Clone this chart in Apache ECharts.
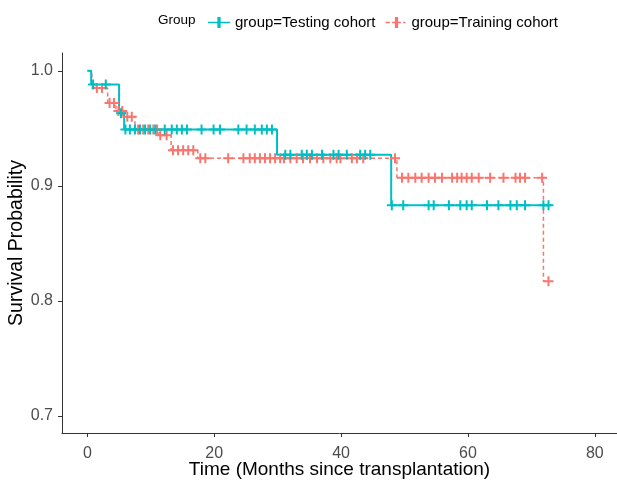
<!DOCTYPE html>
<html>
<head>
<meta charset="utf-8">
<script src="https://cdn.jsdelivr.net/npm/echarts@6/dist/echarts.min.js"></script>
<style>
html,body{margin:0;padding:0;background:#fff;}
#chart{width:617px;height:482px;}
</style>
</head>
<body>
<div id="chart"></div>
<script>
// Kaplan-Meier step points [time, survival]
const testingSteps = [[0,1.0],[0.6,0.988],[5.0,0.963],[5.8,0.949],[29.9,0.927],[47.9,0.883],[73.2,0.883]];
const trainingSteps = [[0,1.0],[0.7,0.985],[3.2,0.972],[4.5,0.965],[6.0,0.960],[7.5,0.949],[11.3,0.944],[13.2,0.931],[17.4,0.924],[48.8,0.907],[71.9,0.817],[72.7,0.817]];
// censoring times
const testingCensor = [0.9,2.9,5.3,6.0,6.7,7.5,8.3,9.1,9.9,10.7,12.2,13.3,14.1,14.9,15.7,18.0,19.9,20.9,23.8,25.1,26.4,27.5,28.3,29.1,
  31.2,32.0,33.8,34.6,35.4,37.0,38.8,39.6,40.9,43.0,43.8,44.6,
  48.0,49.8,53.8,54.6,57.0,58.8,59.8,60.6,63.0,64.8,66.7,67.7,69.0,71.9,72.7];
const trainingCensor = [1.5,2.3,3.5,4.2,4.9,5.5,6.3,7.0,8.0,8.8,9.6,10.4,11.0,11.5,12.5,13.5,14.3,15.1,15.9,16.7,17.8,18.6,22.2,
  24.6,25.6,26.4,27.2,28.0,28.8,29.6,30.4,31.0,32.0,33.0,34.0,35.1,36.2,37.2,38.3,39.3,39.9,41.7,42.5,43.5,
  48.5,49.6,50.6,51.7,52.7,53.8,54.8,55.9,57.5,58.3,59.0,59.8,60.6,61.7,63.5,65.6,67.5,68.2,69.0,
  71.7,72.7];
const xTicks = [0,20,40,60,80];
const yTicks = [0.7,0.8,0.9,1.0];
const groupNames = ['group=Testing cohort','group=Training cohort'];
const colors = ['#00BFC4','#F8766D'];

function survAt(steps, t){
  let s = steps[0][1];
  for (const p of steps){ if (p[0] <= t) s = p[1]; }
  return s;
}
const crossPath = 'path://M4,0 H6 V4 H10 V6 H6 V10 H4 V6 H0 V4 H4 Z';
const legTesting = 'path://M0,4.3 H8.5 V0 H11.5 V4.3 H20 V5.7 H11.5 V10 H8.5 V5.7 H0 Z';
const legTraining = 'path://M0,4.3 H4 V5.7 H0 Z M6,4.3 H8.5 V0 H11.5 V4.3 H14 V5.7 H11.5 V10 H8.5 V5.7 H6 Z M16,4.3 H18 V5.7 H16 Z';

const chart = echarts.init(document.getElementById('chart'));
const font = 'Liberation Sans, Arial, sans-serif';
chart.setOption({
  animation:false,
  textStyle:{fontFamily:font},
  grid:{left:62, top:53, right:0, bottom:49, containLabel:false, outerBoundsMode:'none'},
  legend:{
    top:10, left:203, itemWidth:22, itemHeight:11, itemGap:10,
    textStyle:{fontSize:15, color:'#000', fontFamily:font},
    data:[{name:groupNames[0], icon:legTesting},{name:groupNames[1], icon:legTraining}]
  },
  graphic:[{type:'text', left:158, top:13, style:{text:'Group', fontSize:13.5, fill:'#000', fontFamily:font}}],
  xAxis:{
    type:'value', min:-4, max:83.5,
    name:'Time (Months since transplantation)', nameLocation:'middle', nameGap:27, nameMoveOverlap:false,
    nameTextStyle:{fontSize:19, color:'#000', fontFamily:font},
    axisLine:{show:true, onZero:false, lineStyle:{color:'#333', width:1}},
    axisTick:{show:true, length:4, customValues:xTicks, lineStyle:{color:'#333'}},
    axisLabel:{customValues:xTicks, fontSize:16, color:'#4D4D4D', margin:13, fontFamily:font},
    splitLine:{show:false}
  },
  yAxis:{
    type:'value', min:0.685, max:1.0155,
    name:'Survival Probability', nameLocation:'middle', nameGap:35, nameMoveOverlap:false,
    nameTextStyle:{fontSize:19.5, color:'#000', fontFamily:font},
    axisLine:{show:true, onZero:false, lineStyle:{color:'#333', width:1}},
    axisTick:{show:true, length:4, customValues:yTicks, lineStyle:{color:'#333'}},
    axisLabel:{customValues:yTicks, fontSize:16, color:'#4D4D4D', margin:9, fontFamily:font,
      formatter:v=>v.toFixed(1)},
    splitLine:{show:false}
  },
  series:[
    {name:groupNames[0], type:'line', step:'end', data:testingSteps, showSymbol:false, symbol:'none',
      lineStyle:{color:colors[0], width:2}, itemStyle:{color:colors[0]}, z:3},
    {name:groupNames[1], type:'line', step:'end', data:trainingSteps, showSymbol:false, symbol:'none',
      lineStyle:{color:colors[1], width:1.5, type:[4,3]}, itemStyle:{color:colors[1]}, z:2},
    {name:groupNames[0], type:'scatter', symbol:crossPath, symbolSize:[10,10],
      data:testingCensor.map(t=>[t, survAt(testingSteps,t)]), itemStyle:{color:colors[0], opacity:1}, z:4},
    {name:groupNames[1], type:'scatter', symbol:crossPath, symbolSize:[10,10],
      data:trainingCensor.map(t=>[t, survAt(trainingSteps,t)]), itemStyle:{color:colors[1], opacity:1}, z:3}
  ]
});
</script>
</body>
</html>
